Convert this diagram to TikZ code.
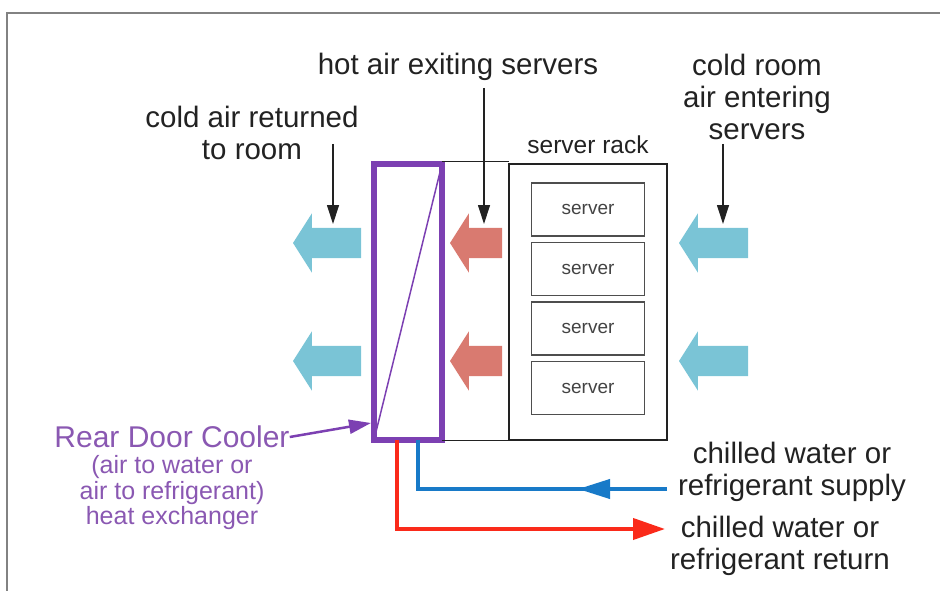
\documentclass[tikz,border=0pt]{standalone}
\usepackage{fontspec}
\setmainfont{Liberation Sans}
\usetikzlibrary{positioning, shapes.arrows, arrows.meta}
\definecolor{coolerPurple}{RGB}{124,64,178}
\definecolor{labelPurple}{RGB}{138,88,178}
\definecolor{coldAir}{RGB}{122,196,214}
\definecolor{hotAir}{RGB}{217,122,112}
\definecolor{supplyBlue}{RGB}{24,122,200}
\definecolor{returnRed}{RGB}{250,42,26}
\definecolor{ink}{RGB}{34,34,34}
\definecolor{frameGray}{RGB}{130,130,130}

\begin{document}
\begin{tikzpicture}[
			x=1pt, y=-1pt,
			title/.style={font=\fontsize{29.5}{32}\selectfont, text=ink, align=center, inner sep=0pt},
			smallTitle/.style={title, font=\fontsize{24.5}{26}\selectfont},
			coolerText/.style={title, text=labelPurple, font=\fontsize{30}{32}\selectfont},
			coolerNote/.style={title, text=labelPurple, font=\fontsize{25}{25.5}\selectfont},
			box/.style={draw, rectangle, inner sep=0pt, outer sep=0pt},
			cooler/.style={box, draw=coolerPurple, line width=6pt, minimum width=68pt, minimum height=276pt},
			rack/.style={box, draw=ink, line width=1.8pt, minimum width=158pt, minimum height=276pt},
			serverBox/.style={box, draw=ink!80, line width=1.2pt, minimum width=113pt, minimum height=53pt, text=ink!85, font=\fontsize{19}{20}\selectfont},
			airArrow/.style={single arrow, single arrow head extend=14.5pt, single arrow tip angle=115, inner xsep=0pt, inner ysep=15pt, outer sep=0pt, shape border rotate=180, anchor=tip},
			coldOut/.style={airArrow, fill=coldAir, minimum height=68pt},
			hot/.style={airArrow, fill=hotAir, minimum height=52pt},
			coldIn/.style={airArrow, fill=coldAir, minimum height=69pt},
			pointer/.style={line width=1.2pt, draw=ink, -{Triangle[width=12pt,length=19pt]}},
			coolerPointer/.style={line width=2.5pt, draw=coolerPurple, -{Triangle[width=14pt,length=22pt]}},
			pipe/.style={line width=4pt},
			]
			\useasboundingbox (0,0) rectangle (940,591);
			\draw[frameGray, line width=1.5pt] (7,591) -- (7,13) -- (940,13);
			
			% cooler, rack and servers
			\draw node[cooler] (cooler) at (408,302) {};
			\draw[coolerPurple, line width=1.5pt] (cooler.north east) -- (cooler.south west);
			
			\draw node[rack] (rack) at (588,302) {};
			\draw[ink, line width=1pt] ([yshift=2pt]cooler.north east) -- ([yshift=2pt]rack.north west);
			\draw[ink, line width=1pt] (cooler.south east) -- (rack.south west);
			\draw node[smallTitle] (rackText) at (588,145) {server rack};
			
			\foreach \x in {1,...,4}
			{\draw node[serverBox](server\x)[yshift=-(\x-1)*59.5pt, below=19pt of rack.north]{server};}
			
			% air flow
			\foreach \x/\y in {1/243, 2/361}
			{\draw node[coldOut](coldOut\x) at (293,\y){};
			 \draw node[hot](hot\x) at (450,\y){};
			 \draw node[coldIn](coldIn\x) at (679,\y){};}
			
			% labels
			\draw node[title] (returnText) at (252,133) {cold air returned\\to room};
			\draw node[title] (hotText) at (458,67) {hot air exiting servers};
			\draw node[title] (roomText) at (757,97) {cold room\\air entering\\servers};
			\draw node[title] (supplyText) at (792,472) {chilled water or\\refrigerant supply};
			\draw node[title] (returnWaterText) at (780,546) {chilled water or\\refrigerant return};
			\draw node[coolerText] (coolerTitle) at (172,437) {Rear Door Cooler};
			\draw node[coolerNote] (coolerNote) at (172,493) {(air to water or\\air to refrigerant)\\heat exchanger};
			
			% Arrow
			\coordinate (returnFrom) at (333,144);
			\coordinate (returnTo) at (333,224);
			\coordinate (hotFrom) at (484,88);
			\coordinate (hotTo) at (484,224);
			\coordinate (roomFrom) at (723,144);
			\coordinate (roomTo) at (723,224);
			\draw [pointer] (returnFrom) -- (returnTo);
			\draw [pointer] (hotFrom) -- (hotTo);
			\draw [pointer] (roomFrom) -- (roomTo);
			
			\coordinate (coolerHit) at (371,423);
			\draw [coolerPointer] (coolerTitle.east) -- (coolerHit);
			
			% pipes
			\coordinate (supplyEnd) at (667,489);
			\coordinate (supplyTip) at (578,489);
			\coordinate (returnEnd) at (665,529);
			\draw [pipe, supplyBlue] ([xshift=10pt]cooler.south) |- (supplyEnd);
			\draw [pipe, supplyBlue, -{Triangle[width=19pt,length=32pt]}] (supplyEnd) -- (supplyTip);
			\draw [pipe, returnRed, -{Triangle[width=21pt,length=32pt]}] ([xshift=-11pt]cooler.south) |- (returnEnd);
			
		\end{tikzpicture}
\end{document}
